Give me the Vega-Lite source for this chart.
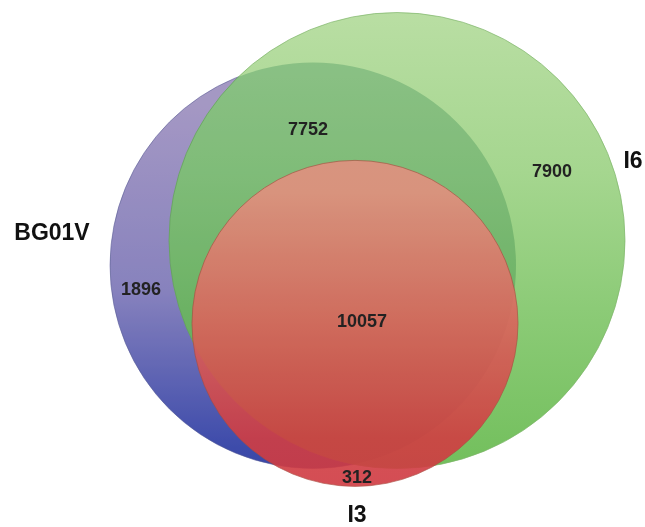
{
  "$schema": "https://vega.github.io/schema/vega-lite/v6.json",
  "width": 645,
  "height": 527,
  "autosize": {"type": "fit", "contains": "padding"},
  "padding": 0,
  "background": "white",
  "config": {"view": {"stroke": null}},
  "datasets": {
    "sets": [
      {"set": "BG01V", "cx": 313, "cy": 266, "d": 406},
      {"set": "I6", "cx": 397, "cy": 241, "d": 456},
      {"set": "I3", "cx": 355, "cy": 324, "d": 326}
    ],
    "labels": [
      {"text": "BG01V", "x": 52, "y": 233, "kind": "set"},
      {"text": "I6", "x": 633, "y": 161, "kind": "set"},
      {"text": "I3", "x": 357, "y": 516, "kind": "set"},
      {"text": "7752", "x": 308, "y": 130, "kind": "count"},
      {"text": "7900", "x": 552, "y": 172, "kind": "count"},
      {"text": "1896", "x": 141, "y": 291, "kind": "count"},
      {"text": "10057", "x": 362, "y": 323, "kind": "count"},
      {"text": "312", "x": 357, "y": 479, "kind": "count"}
    ]
  },
  "layer": [
    {
      "data": {"name": "sets"},
      "transform": [{"filter": {"field": "set", "equal": "BG01V"}}],
      "mark": {
        "type": "point", "shape": "circle", "filled": true, "opacity": 1,
        "fill": {"gradient": "linear", "x1": 0, "y1": 0, "x2": 0, "y2": 1,
          "stops": [
            {"offset": 0, "color": "#d5ade8"},
            {"offset": 0.1, "color": "#d5ade8"},
            {"offset": 0.56, "color": "#af94e1"},
            {"offset": 0.95, "color": "#4e55ca"},
            {"offset": 1, "color": "#4a50c8"}
          ]},
        "stroke": "#6f6aa8", "strokeWidth": 1, "strokeOpacity": 0.6
      },
      "encoding": {
        "x": {"field": "cx", "type": "quantitative", "scale": {"domain": [0, 645], "nice": false, "zero": false}, "axis": null},
        "y": {"field": "cy", "type": "quantitative", "scale": {"domain": [0, 527], "nice": false, "zero": false, "reverse": true}, "axis": null},
        "size": {"field": "d", "type": "quantitative", "scale": {"type": "pow", "exponent": 2, "domain": [0, 645], "range": [0, 416025]}, "legend": null}
      }
    },
    {
      "data": {"name": "sets"},
      "transform": [{"filter": {"field": "set", "equal": "I6"}}],
      "mark": {
        "type": "point", "shape": "circle", "filled": true, "opacity": 1,
        "fill": {"gradient": "linear", "x1": 0, "y1": 0, "x2": 0, "y2": 1,
          "stops": [
            {"offset": 0, "color": "#b9dea3"},
            {"offset": 0.35, "color": "#a5d68f"},
            {"offset": 0.65, "color": "#8ccb77"},
            {"offset": 1, "color": "#72bf5c"}
          ]},
        "stroke": "#7fb56b", "strokeWidth": 1, "strokeOpacity": 0.7
      },
      "encoding": {
        "x": {"field": "cx", "type": "quantitative", "scale": {"domain": [0, 645], "nice": false, "zero": false}, "axis": null},
        "y": {"field": "cy", "type": "quantitative", "scale": {"domain": [0, 527], "nice": false, "zero": false, "reverse": true}, "axis": null},
        "size": {"field": "d", "type": "quantitative", "scale": {"type": "pow", "exponent": 2, "domain": [0, 645], "range": [0, 416025]}, "legend": null}
      }
    },
    {
      "data": {"name": "sets"},
      "transform": [{"filter": {"field": "set", "equal": "BG01V"}}],
      "mark": {
        "type": "point", "shape": "circle", "filled": true, "opacity": 1,
        "fill": "#c5e0d7", "blend": "multiply", "strokeWidth": 0
      },
      "encoding": {
        "x": {"field": "cx", "type": "quantitative", "scale": {"domain": [0, 645], "nice": false, "zero": false}, "axis": null},
        "y": {"field": "cy", "type": "quantitative", "scale": {"domain": [0, 527], "nice": false, "zero": false, "reverse": true}, "axis": null},
        "size": {"field": "d", "type": "quantitative", "scale": {"type": "pow", "exponent": 2, "domain": [0, 645], "range": [0, 416025]}, "legend": null}
      }
    },
    {
      "data": {"name": "sets"},
      "transform": [{"filter": {"field": "set", "equal": "I3"}}],
      "mark": {
        "type": "point", "shape": "circle", "filled": true, "opacity": 0.9,
        "fill": {"gradient": "linear", "x1": 0, "y1": 0, "x2": 0, "y2": 1,
          "stops": [
            {"offset": 0, "color": "#e29080"},
            {"offset": 0.1, "color": "#e28f7e"},
            {"offset": 0.5, "color": "#da645c"},
            {"offset": 0.85, "color": "#d13e43"},
            {"offset": 1, "color": "#d03a42"}
          ]},
        "stroke": "#a94a3e", "strokeWidth": 1, "strokeOpacity": 0.7
      },
      "encoding": {
        "x": {"field": "cx", "type": "quantitative", "scale": {"domain": [0, 645], "nice": false, "zero": false}, "axis": null},
        "y": {"field": "cy", "type": "quantitative", "scale": {"domain": [0, 527], "nice": false, "zero": false, "reverse": true}, "axis": null},
        "size": {"field": "d", "type": "quantitative", "scale": {"type": "pow", "exponent": 2, "domain": [0, 645], "range": [0, 416025]}, "legend": null}
      }
    },
    {
      "data": {"name": "labels"},
      "transform": [{"filter": {"field": "kind", "equal": "set"}}],
      "mark": {"type": "text", "font": "Liberation Sans", "fontSize": 23, "fontWeight": "bold", "color": "#111111", "align": "center", "baseline": "middle"},
      "encoding": {
        "x": {"field": "x", "type": "quantitative", "scale": {"domain": [0, 645], "nice": false, "zero": false}, "axis": null},
        "y": {"field": "y", "type": "quantitative", "scale": {"domain": [0, 527], "nice": false, "zero": false, "reverse": true}, "axis": null},
        "text": {"field": "text", "type": "nominal"}
      }
    },
    {
      "data": {"name": "labels"},
      "transform": [{"filter": {"field": "kind", "equal": "count"}}],
      "mark": {"type": "text", "font": "Liberation Sans", "fontSize": 18, "fontWeight": "bold", "color": "#222222", "align": "center", "baseline": "middle"},
      "encoding": {
        "x": {"field": "x", "type": "quantitative", "scale": {"domain": [0, 645], "nice": false, "zero": false}, "axis": null},
        "y": {"field": "y", "type": "quantitative", "scale": {"domain": [0, 527], "nice": false, "zero": false, "reverse": true}, "axis": null},
        "text": {"field": "text", "type": "nominal"}
      }
    }
  ]
}
